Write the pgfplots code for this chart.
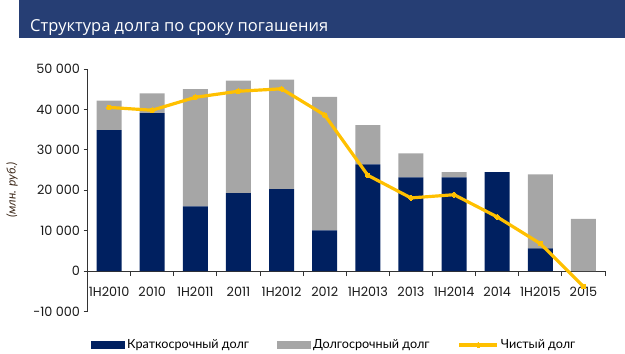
\documentclass[border=0pt]{standalone}
\usepackage{fontspec}
\setmainfont{Poppins}
\newfontfamily\legfont{Lato}
\newfontfamily\titlefont{Open Sans}
\usepackage{pgfplots}
\pgfplotsset{compat=1.18}
\definecolor{navy}{RGB}{0,32,96}
\definecolor{lgray}{RGB}{166,166,166}
\definecolor{gold}{RGB}{255,192,0}
\definecolor{titlebar}{RGB}{38,62,116}
\definecolor{lblbrown}{RGB}{60,40,25}
\pgfplotsset{
  navylegend/.style={legend image code/.code={\fill[navy] (0bp,-4bp) rectangle (34bp,4bp);}},
  graylegend/.style={legend image code/.code={\fill[lgray] (0bp,-4bp) rectangle (34bp,4bp);}},
  goldlegend/.style={legend image code/.code={\draw[##1, mark repeat=2, mark phase=2] plot coordinates {(0bp,0bp) (19bp,0bp) (38bp,0bp)};}},
  goldline/.style={sharp plot, color=gold, line width=3.2pt, mark=*, mark size=2.4pt, mark options={fill=gold, draw=gold, line width=0pt}},
  common/.style={
    at={(87.5bp,41.5bp)}, anchor=south west,
    scale only axis, width=517.5bp, height=242.5bp,
    xmin=-0.5, xmax=11.5, ymin=-10000, ymax=50000,
  },
}
\begin{document}
\begin{tikzpicture}[x=1bp,y=1bp]
\useasboundingbox (0,0) rectangle (625,353);
\fill[titlebar] (19,315) rectangle (625,353);
\node[anchor=base west, inner sep=0pt, text=white, font=\titlefont\fontsize{16.5bp}{18bp}\selectfont] at (30,322) {Структура долга по сроку погашения};
\node[rotate=90, inner sep=0pt, text=lblbrown, font=\legfont\itshape\fontsize{12bp}{14bp}\selectfont] at (12,163) {(млн. руб.)};
\begin{axis}[
  common,
  ybar stacked, bar width=25bp,
  axis x line*=middle, axis y line*=left,
  axis line style={black!80, line width=0.8pt, -},
  xtick={0,...,11},
  xticklabels={1H2010,2010,1H2011,2011,1H2012,2012,1H2013,2013,1H2014,2014,1H2015,2015},
  minor xtick={-0.5,0.5,...,11.5},
  major x tick style={draw=none},
  minor x tick style={black!80, line width=0.8pt},
  minor tick length=5bp,
  x tick label style={font=\fontsize{12.8bp}{14bp}\selectfont, text=black!90, yshift=-8bp},
  ytick={-10000,0,10000,20000,30000,40000,50000},
  yticklabels={-10 000,0,10 000,20 000,30 000,40 000,50 000},
  scaled y ticks=false,
  y tick label style={font=\fontsize{12.8bp}{14bp}\selectfont, text=black!90},
  y tick style={black!80, line width=0.8pt},
  ytick pos=left, tick align=outside, major tick length=4bp,
  clip=false,
  legend columns=3,
  legend style={at={(0.0068,-0.138)}, anchor=west, draw=none, fill=none, inner sep=0pt,
    font=\legfont\fontsize{12.6bp}{14bp}\selectfont,
    /tikz/every even column/.append style={column sep=26bp},
    nodes={inner sep=2bp}},
]
\addplot+[ybar, fill=navy, draw=none, navylegend]
  coordinates {(0,34900) (1,39100) (2,16000) (3,19300) (4,20300) (5,10100) (6,26400) (7,23200) (8,23200) (9,24500) (10,5600) (11,0)};
\addplot+[ybar, fill=lgray, draw=none, graylegend]
  coordinates {(0,7300) (1,4900) (2,29000) (3,27800) (4,27100) (5,33000) (6,9700) (7,5900) (8,1300) (9,0) (10,18300) (11,12900)};
\addlegendimage{goldline, goldlegend}
\legend{Краткосрочный долг, Долгосрочный долг, Чистый долг}
\end{axis}
\begin{axis}[common, hide axis, clip=false]
\addplot[goldline]
  coordinates {(0,40500) (1,39800) (2,43000) (3,44500) (4,45100) (5,38600) (6,23700) (7,18100) (8,18900) (9,13400) (10,6800) (11,-3800)};
\end{axis}
\end{tikzpicture}
\end{document}
